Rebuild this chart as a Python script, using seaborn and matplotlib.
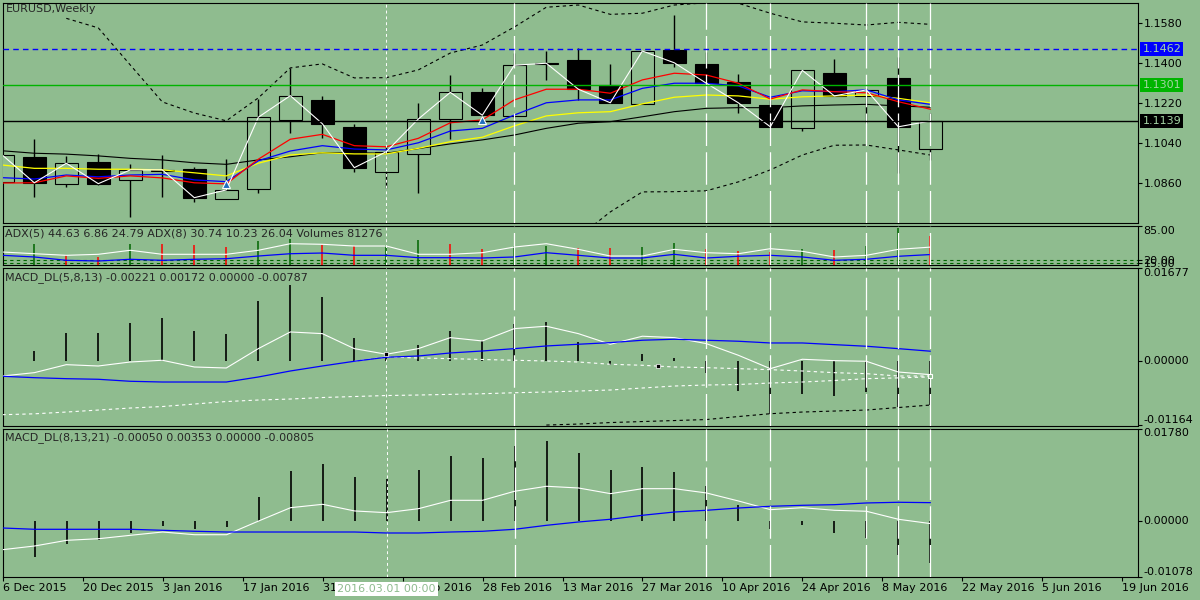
import numpy as np
import matplotlib
matplotlib.use("Agg")
import matplotlib.pyplot as plt
import seaborn as sns

nan = np.nan
BG = "#8FBC8F"

# ---------------- data (weekly bars, index 0..29) ----------------
bars = np.arange(30)

opens = [1.0864, 1.0978, 1.0854, 1.0953, 1.0872, 1.0914, 1.0923, 1.0789, 1.0832, 1.1142,
         1.1234, 1.1112, 1.0911, 1.0989, 1.1147, 1.1268, 1.1163, 1.1396, 1.1414, 1.1301,
         1.1217, 1.1459, 1.1396, 1.1315, 1.1211, 1.1109, 1.1356, 1.1252, 1.1333, 1.1012]
highs = [1.1005, 1.1057, 1.0982, 1.0990, 1.0944, 1.0986, 1.0933, 1.0967, 1.1239, 1.1376,
         1.1250, 1.1126, 1.1027, 1.1221, 1.1346, 1.1288, 1.1444, 1.1454, 1.1466, 1.1396,
         1.1456, 1.1616, 1.1451, 1.1351, 1.1234, 1.1369, 1.1417, 1.1286, 1.1428, 1.1174]
lows = [1.0850, 1.0798, 1.0843, 1.0850, 1.0706, 1.0798, 1.0773, 1.0787, 1.0814, 1.1084,
        1.1064, 1.0908, 1.0836, 1.0816, 1.1057, 1.1144, 1.1151, 1.1324, 1.1234, 1.1221,
        1.1215, 1.1383, 1.1301, 1.1176, 1.1113, 1.1095, 1.1252, 1.1129, 1.0906, 1.0964]
closes = [1.0986, 1.0861, 1.0949, 1.0857, 1.0919, 1.0919, 1.0794, 1.0829, 1.1156, 1.1253,
          1.1127, 1.0929, 1.1001, 1.1148, 1.1268, 1.1165, 1.1390, 1.1399, 1.1282, 1.1221,
          1.1454, 1.1401, 1.1309, 1.1221, 1.1113, 1.1367, 1.1252, 1.1279, 1.1113, 1.1139]

ma_red = [1.0860, 1.0861, 1.0892, 1.0881, 1.0892, 1.0883, 1.0861, 1.0856, 1.0967, 1.1057,
          1.1079, 1.1028, 1.1023, 1.1061, 1.1131, 1.1144, 1.1234, 1.1282, 1.1282, 1.1264,
          1.1324, 1.1354, 1.1346, 1.1309, 1.1238, 1.1279, 1.1271, 1.1266, 1.1226, 1.1192]
ma_blue = [1.0884, 1.0878, 1.0896, 1.0888, 1.0896, 1.0899, 1.0874, 1.0866, 1.0960, 1.1004,
           1.1028, 1.1013, 1.1009, 1.1041, 1.1094, 1.1106, 1.1166, 1.1221, 1.1234, 1.1234,
           1.1286, 1.1309, 1.1309, 1.1297, 1.1246, 1.1275, 1.1271, 1.1279, 1.1234, 1.1214]
ma_yellow = [1.0941, 1.0926, 1.0926, 1.0922, 1.0922, 1.0919, 1.0906, 1.0892, 1.0949, 1.0986,
             1.0996, 1.0991, 1.0991, 1.1016, 1.1046, 1.1066, 1.1117, 1.1162, 1.1176, 1.1181,
             1.1216, 1.1246, 1.1256, 1.1252, 1.1237, 1.1248, 1.1252, 1.1256, 1.1241, 1.1221]
ma_black = [1.1005, 1.0994, 1.0990, 1.0982, 1.0971, 1.0964, 1.0951, 1.0944, 1.0964, 1.0978,
            1.0996, 1.0996, 1.0994, 1.1015, 1.1036, 1.1054, 1.1076, 1.1106, 1.1129, 1.1136,
            1.1158, 1.1181, 1.1196, 1.1199, 1.1199, 1.1207, 1.1211, 1.1214, 1.1207, 1.1201]
upper_band = [nan, nan, 1.1601, 1.1558, 1.1391, 1.1225, 1.1175, 1.1140, 1.1243, 1.1378,
              1.1396, 1.1333, 1.1334, 1.1369, 1.1445, 1.1481, 1.1562, 1.1651, 1.1661, 1.1619,
              1.1624, 1.1661, 1.1671, 1.1669, 1.1624, 1.1585, 1.1579, 1.1571, 1.1583, 1.1574]
lower_band = [nan] * 18 + [1.0617, 1.0730, 1.0820, 1.0821, 1.0825, 1.0865, 1.0919, 1.0986,
                           1.1030, 1.1031, 1.1009, 1.0986]

price_levels = [1.1462, 1.1301, 1.1139]
level_colors = ["#0000FF", "#00B400", "#000000"]
main_ticks = [1.1580, 1.1400, 1.1220, 1.1040, 1.0860]
arrow_x = [7, 15]
arrow_y = [1.0856, 1.1144]

adx5 = [35.5, 32.3, 29.3, 31.2, 38.7, 31.2, 31.2, 31.2, 38.7, 51.0, 49.9, 46.7, 46.7, 31.2, 31.2,
        34.2, 44.8, 51.0, 40.5, 28.0, 28.0, 40.5, 34.2, 32.3, 41.7, 36.8, 26.2, 29.3, 40.5, 44.63]
adx8 = [29.3, 26.2, 20.0, 18.7, 21.9, 20.0, 21.9, 23.0, 28.0, 32.3, 33.6, 29.3, 29.3, 24.9, 24.9,
        24.3, 26.2, 34.2, 29.3, 24.3, 24.3, 31.2, 24.3, 27.5, 29.3, 26.2, 20.0, 21.9, 27.5, 30.74]
volumes = [nan, 49.9, 29.3, 26.2, 49.9, 49.9, 48.0, 44.8, 56.0, 60.3, 48.0, 46.7, 48.0, 57.4, 49.9,
           40.6, 46.7, 46.7, 43.0, 43.0, 44.8, 52.3, 40.6, 37.4, 35.5, 40.6, 39.2, 46.7, 80.9, 65.4]
volume_up = [0, 1, 0, 0, 1, 0, 0, 0, 1, 1, 0, 0, 1, 1, 0, 0, 1, 1, 0, 0, 1, 1, 0, 0, 0, 1, 0, 1, 1, 0]
adx_levels = [20, 15]

m1_hist = [nan, 0.00176, 0.00500, 0.00500, 0.00680, 0.00770, 0.00542, 0.00482, 0.01076, 0.01359,
           0.01148, 0.00410, 0.00104, 0.00279, 0.00536, 0.00356, 0.00662, 0.00698, 0.00338, -0.00076,
           0.00122, 0.00050, -0.00214, -0.00544, -0.00963, -0.00592, -0.00639, -0.00562, -0.00832, -0.00787]
m1_main = [-0.00274, -0.00214, -0.00070, -0.00094, -0.00022, 0.00009, -0.00112, -0.00130, 0.00218, 0.00518,
           0.00488, 0.00218, 0.00117, 0.00218, 0.00416, 0.00356, 0.00578, 0.00621, 0.00488, 0.00297,
           0.00441, 0.00416, 0.00308, 0.00099, -0.00142, 0.00027, 0.00002, -0.00009, -0.00202, -0.00250]
m1_signal = [-0.00279, -0.00304, -0.00322, -0.00333, -0.00369, -0.00382, -0.00382, -0.00382, -0.00292, -0.00184,
             -0.00094, -0.00009, 0.00063, 0.00086, 0.00140, 0.00176, 0.00218, 0.00266, 0.00297, 0.00326,
             0.00369, 0.00387, 0.00369, 0.00351, 0.00320, 0.00320, 0.00290, 0.00261, 0.00218, 0.00172]
m1_band_mid = [nan] * 11 + [-0.00009, 0.00068, 0.00050, 0.00038, 0.00023, 0.00009, -0.00004, -0.00022,
                            -0.00063, -0.00081, -0.00112, -0.00124, -0.00142, -0.00160, -0.00184,
                            -0.00214, -0.00232, -0.00274, -0.00274]
m1_band_low = [-0.00970, -0.00954, -0.00922, -0.00886, -0.00850, -0.00823, -0.00778, -0.00733, -0.00706, -0.00688,
               -0.00661, -0.00643, -0.00625, -0.00616, -0.00604, -0.00593, -0.00575, -0.00562, -0.00544, -0.00526,
               -0.00490, -0.00454, -0.00436, -0.00427, -0.00400, -0.00382, -0.00355, -0.00322, -0.00308, -0.00290]
m1_band_black = [nan] * 17 + [-0.01156, -0.01138, -0.01111, -0.01093, -0.01075, -0.01057, -0.01003,
                              -0.00952, -0.00922, -0.00904, -0.00886, -0.00841, -0.00796]
m1_marks_x = [12, 20.5]
m1_marks_y = [0.00117, -0.00099]
m1_cursor_x = [29]
m1_cursor_y = [-0.00274]

m2_hist = [nan, -0.00693, -0.00437, -0.00372, -0.00225, -0.00096, -0.00148, -0.00116, 0.00462, 0.00963,
           0.01091, 0.00847, 0.00803, 0.00976, 0.01251, 0.01213, 0.01444, 0.01540, 0.01309, 0.00976,
           0.01040, 0.00943, 0.00674, 0.00302, -0.00148, -0.00071, -0.00231, -0.00321, -0.00649, -0.00805]
m2_main = [-0.00552, -0.00481, -0.00372, -0.00341, -0.00275, -0.00212, -0.00264, -0.00264, 0.00000, 0.00256,
           0.00321, 0.00193, 0.00160, 0.00237, 0.00398, 0.00398, 0.00572, 0.00668, 0.00635, 0.00526,
           0.00622, 0.00622, 0.00539, 0.00385, 0.00218, 0.00256, 0.00206, 0.00187, 0.00033, -0.00050]
m2_signal = [-0.00135, -0.00160, -0.00160, -0.00160, -0.00160, -0.00179, -0.00198, -0.00212, -0.00212, -0.00212,
             -0.00212, -0.00212, -0.00231, -0.00231, -0.00212, -0.00198, -0.00160, -0.00083, -0.00019, 0.00033,
             0.00110, 0.00173, 0.00206, 0.00250, 0.00283, 0.00302, 0.00314, 0.00347, 0.00360, 0.00353]

event_bars = [16, 22, 24, 27, 28, 29]
cursor_bar = 12

date_ticks = np.arange(15) * 2.5
date_labels = ["6 Dec 2015", "20 Dec 2015", "3 Jan 2016", "17 Jan 2016", "31 Jan 2016",
               "14 Feb 2016", "28 Feb 2016", "13 Mar 2016", "27 Mar 2016", "10 Apr 2016",
               "24 Apr 2016", "8 May 2016", "22 May 2016", "5 Jun 2016", "19 Jun 2016"]

# ---------------- style ----------------
sns.set_theme(style="white", rc={"axes.facecolor": BG, "figure.facecolor": BG,
                                 "axes.edgecolor": "black", "axes.linewidth": 0.8})
plt.rcParams["font.family"] = ["DejaVu Sans"]
FS = 8

fig = plt.figure(figsize=(12, 6), dpi=100)
W, H = 1200.0, 600.0


def panel(top, bottom):
    a = fig.add_axes([2.7 / W, 1 - bottom / H, 1135 / W, (bottom - top) / H])
    a.set_xlim(0.0125, 35.48)
    a.yaxis.tick_right()
    a.tick_params(axis="y", direction="out", length=3, width=0.8, pad=1.2, labelsize=FS, colors="black")
    a.tick_params(axis="x", bottom=False, labelbottom=False)
    a.grid(False)
    for s in a.spines.values():
        s.set_color("black")
        s.set_linewidth(0.8)
    return a


ax = panel(2.7, 223.3)
ax_adx = panel(225.5, 264.5)
ax_m1 = panel(267.5, 425.5)
ax_m2 = panel(428.5, 577)

# ---------------- main price panel ----------------
o, h, l, c = map(np.array, (opens, highs, lows, closes))
up = c >= o
ax.vlines(bars, l, h, color="black", lw=1, zorder=2)
ax.bar(bars, np.abs(c - o), bottom=np.minimum(o, c), width=0.72,
       color=np.where(up, BG, "black"), edgecolor="black", linewidth=0.8, zorder=3)

sns.lineplot(x=bars, y=upper_band, color="black", lw=0.8, linestyle=(0, (3, 3)), ax=ax, zorder=4)
sns.lineplot(x=bars, y=lower_band, color="black", lw=0.8, linestyle=(0, (3, 3)), ax=ax, zorder=4)
sns.lineplot(x=bars, y=ma_black, color="black", lw=0.8, ax=ax, zorder=4)
sns.lineplot(x=bars, y=ma_yellow, color="#FFFF00", lw=0.9, ax=ax, zorder=4)
sns.lineplot(x=bars, y=ma_blue, color="#0000FF", lw=0.9, ax=ax, zorder=4)
sns.lineplot(x=bars, y=ma_red, color="#FF0000", lw=0.9, ax=ax, zorder=4)
sns.lineplot(x=bars, y=closes, color="white", lw=0.8, ax=ax, zorder=5)

for lvl, col in zip(price_levels, level_colors):
    ls = (0, (4, 3)) if col == "#0000FF" else "-"
    ax.axhline(lvl, color=col, lw=1.0, linestyle=ls, zorder=6)
    ax.annotate(f"{lvl:.4f}", xy=(1, lvl), xycoords=("axes fraction", "data"),
                xytext=(3.4, 0), textcoords="offset points", ha="left", va="center",
                fontsize=FS, color="#A4D4A4", annotation_clip=False,
                bbox=dict(boxstyle="square,pad=0.18", fc=col, ec="none"))

ax.plot(arrow_x, arrow_y, linestyle="none", marker="^", markersize=6,
        markerfacecolor="#1F6FC0", markeredgecolor="white", markeredgewidth=0.8, zorder=7)

ax.set_ylim(1.06787, 1.16714)
ax.set_yticks(main_ticks)
ax.set_yticklabels([f"{v:.4f}" for v in main_ticks])
ax.set_ylabel("")
ax.annotate("EURUSD,Weekly", xy=(0, 1), xycoords="axes fraction", xytext=(2.4, -0.8),
            textcoords="offset points", ha="left", va="top", fontsize=FS)

# ---------------- ADX / volumes panel ----------------
vol_colors = ["#006400" if u else "#FF0000" for u in volume_up]
ax_adx.set_ylim(12.16, 85)
ax_adx.vlines(bars, 12.16, volumes, colors=vol_colors, lw=1.1, zorder=3)
for lv in adx_levels:
    ax_adx.axhline(lv, color="#006400", lw=0.8, linestyle=(0, (3, 3)), zorder=2)
sns.lineplot(x=bars, y=adx5, color="white", lw=0.8, ax=ax_adx, zorder=4)
sns.lineplot(x=bars, y=adx8, color="#0000FF", lw=0.9, ax=ax_adx, zorder=4)
ax_adx.set_yticks([85] + adx_levels)
ax_adx.set_yticklabels(["85.00"] + [f"{v:.2f}" for v in adx_levels])
ax_adx.get_yticklabels()[0].set_va("top")
ax_adx.set_ylabel("")
ax_adx.annotate("ADX(5) 44.63 6.86 24.79 ADX(8) 30.74 10.23 26.04 Volumes 81276",
                xy=(0, 1), xycoords="axes fraction", xytext=(2.0, -2.5),
                textcoords="offset points", ha="left", va="top", fontsize=FS)

# ---------------- MACD_DL(5,8,13) ----------------
ax_m1.set_ylim(-0.01164, 0.01677)
ax_m1.vlines(bars, 0, m1_hist, color="black", lw=1.2, zorder=3)
sns.lineplot(x=bars, y=m1_band_low, color="white", lw=0.8, linestyle=(0, (3, 3)), ax=ax_m1, zorder=3)
sns.lineplot(x=bars, y=m1_band_mid, color="white", lw=0.8, linestyle=(0, (3, 3)), ax=ax_m1, zorder=3)
sns.lineplot(x=bars, y=m1_band_black, color="black", lw=0.8, linestyle=(0, (3, 3)), ax=ax_m1, zorder=3)
sns.lineplot(x=bars, y=m1_main, color="white", lw=0.8, ax=ax_m1, zorder=4)
sns.lineplot(x=bars, y=m1_signal, color="#0000FF", lw=0.9, ax=ax_m1, zorder=4)
ax_m1.plot(m1_marks_x, m1_marks_y, linestyle="none", marker="s", markersize=3.5,
           markerfacecolor="black", markeredgecolor="white", markeredgewidth=0.5, zorder=6)
ax_m1.plot(m1_cursor_x, m1_cursor_y, linestyle="none", marker="s", markersize=3.5,
           markerfacecolor=BG, markeredgecolor="white", markeredgewidth=0.8, zorder=6)
m1_ticks = [0.01677, 0.0, -0.01164]
ax_m1.set_yticks(m1_ticks)
ax_m1.set_yticklabels([f"{v:.5f}" for v in m1_ticks])
for lab, va in zip(ax_m1.get_yticklabels(), ["top", "center", "bottom"]):
    lab.set_va(va)
ax_m1.set_ylabel("")
ax_m1.annotate("MACD_DL(5,8,13) -0.00221 0.00172 0.00000 -0.00787",
               xy=(0, 1), xycoords="axes fraction", xytext=(2.0, -3.3),
               textcoords="offset points", ha="left", va="top", fontsize=FS)

# ---------------- MACD_DL(8,13,21) ----------------
ax_m2.set_ylim(-0.01078, 0.01780)
ax_m2.vlines(bars, 0, m2_hist, color="black", lw=1.2, zorder=3)
sns.lineplot(x=bars, y=m2_main, color="white", lw=0.8, ax=ax_m2, zorder=4)
sns.lineplot(x=bars, y=m2_signal, color="#0000FF", lw=0.9, ax=ax_m2, zorder=4)
m2_ticks = [0.01780, 0.0, -0.01078]
ax_m2.set_yticks(m2_ticks)
ax_m2.set_yticklabels([f"{v:.5f}" for v in m2_ticks])
for lab, va in zip(ax_m2.get_yticklabels(), ["top", "center", "bottom"]):
    lab.set_va(va)
ax_m2.set_ylabel("")
ax_m2.annotate("MACD_DL(8,13,21) -0.00050 0.00353 0.00000 -0.00805",
               xy=(0, 1), xycoords="axes fraction", xytext=(2.0, -2.6),
               textcoords="offset points", ha="left", va="top", fontsize=FS)

ax_m2.set_xticks(date_ticks)
ax_m2.set_xticklabels(date_labels)
ax_m2.tick_params(axis="x", bottom=True, labelbottom=True, direction="out",
                  length=3, width=0.8, pad=1, labelsize=FS, colors="black")
for lab in ax_m2.get_xticklabels():
    lab.set_ha("left")
ax_m2.set_xlabel("")

# vertical markers through every panel
for a in (ax, ax_adx, ax_m1, ax_m2):
    for b in event_bars:
        a.axvline(b, color="white", lw=0.9, linestyle=(0, (26, 5)), zorder=5)
    a.axvline(cursor_bar, color="white", lw=0.7, linestyle=(0, (3, 3)), zorder=5)

ax_m2.annotate("2016.03.01 00:00", xy=(cursor_bar, 0), xycoords=("data", "axes fraction"),
               xytext=(0, -8.6), textcoords="offset points", ha="center", va="center",
               fontsize=FS, color=BG, zorder=10, annotation_clip=False,
               bbox=dict(boxstyle="square,pad=0.2", fc="white", ec="none"))

fig.savefig("out.png", dpi=100, facecolor=BG)
